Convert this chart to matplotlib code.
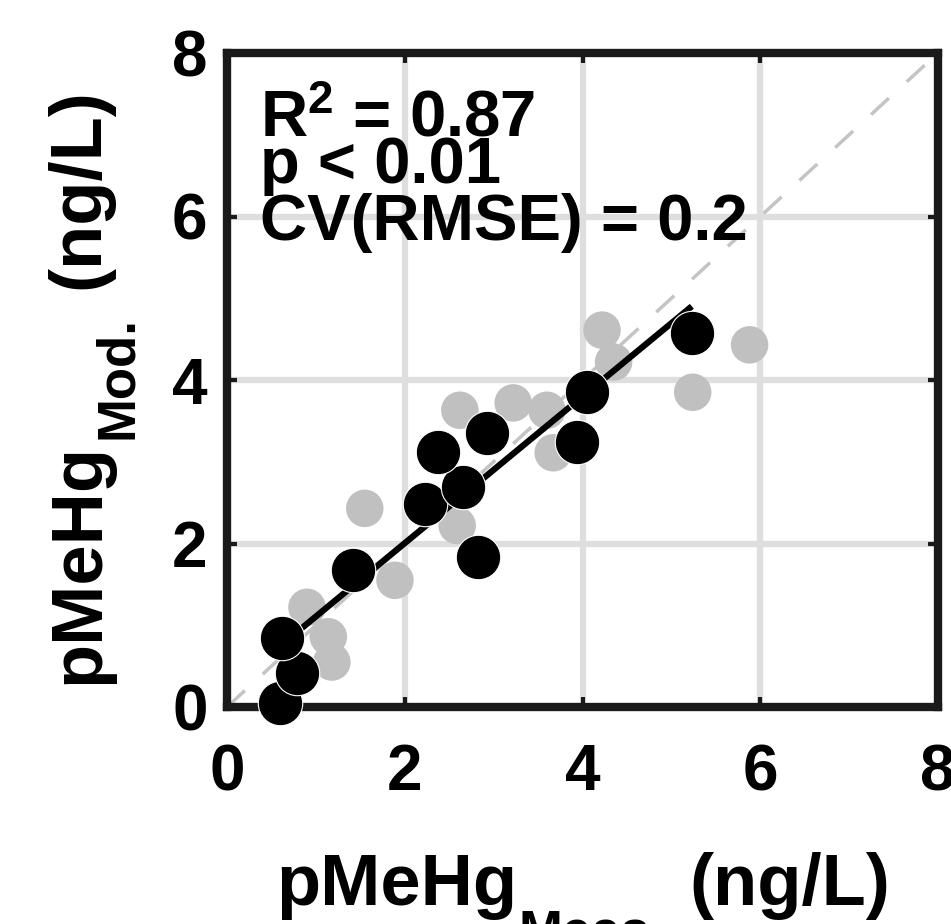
import matplotlib
matplotlib.use("Agg")
import matplotlib.pyplot as plt
import numpy as np

plt.rcParams['font.family'] = ['Liberation Sans', 'DejaVu Sans']
plt.rcParams['font.weight'] = 'bold'
plt.rcParams['mathtext.fontset'] = 'custom'
plt.rcParams['mathtext.rm'] = 'Liberation Sans:bold'
plt.rcParams['mathtext.default'] = 'rm'

# Data
gray_x = [0.90, 1.14, 1.18, 1.55, 1.89, 2.59, 2.62, 3.22, 3.60, 3.67, 4.22, 4.35, 5.24, 5.88]
gray_y = [1.22, 0.86, 0.55, 2.43, 1.55, 2.22, 3.63, 3.72, 3.63, 3.11, 4.61, 4.22, 3.85, 4.43]
black_x = [0.60, 0.79, 0.62, 1.42, 2.23, 2.65, 2.37, 2.92, 2.82, 3.94, 4.05, 5.23]
black_y = [0.05, 0.42, 0.84, 1.68, 2.48, 2.69, 3.12, 3.35, 1.83, 3.24, 3.85, 4.57]
fit_slope = 0.897
fit_intercept = 0.21
ticks = [0, 2, 4, 6, 8]
stats_lines = [r'R$^2$ = 0.87', 'p < 0.01', 'CV(RMSE) = 0.2']
label_main = 'pMeHg'
x_sub = 'Meas'
y_sub = 'Mod.'
unit = '(ng/L)'

W, H = 951, 924
fig = plt.figure(figsize=(W/100, H/100), dpi=100)
ax = fig.add_axes([227/W, 1-707/H, (938-227)/W, (707-53)/H])

ax.set_xlim(0, 8)
ax.set_ylim(0, 8)
ax.set_xticks(ticks)
ax.set_yticks(ticks)
ax.grid(True, color='#dedede', linewidth=4.5, zorder=0)
ax.set_axisbelow(True)

# 1:1 line
ax.plot([0, 8], [0, 8], color='#c4c4c4', linewidth=2.5, linestyle=(0, (7, 7)), zorder=1.5)

ax.scatter(gray_x, gray_y, s=27**2, color='#c0c0c0', edgecolors='none', zorder=2)

fx = np.array([min(black_x), max(black_x)])
ax.plot(fx, fit_intercept + fit_slope * fx, color='black', linewidth=4.5, zorder=3,
        solid_capstyle='butt')

ax.scatter(black_x, black_y, s=32**2, color='black', edgecolors='white', linewidths=0.8,
           zorder=7, clip_on=False)

for s in ax.spines.values():
    s.set_linewidth(6)
    s.set_color('#1a1a1a')
    s.set_zorder(5)

ax.tick_params(axis='both', which='both', direction='in', length=7, width=3,
               color='#1a1a1a', top=True, right=True, labelsize=46)
ax.tick_params(axis='x', pad=26)
ax.tick_params(axis='y', pad=14)

baselines = [0.8716, 0.8012, 0.714]
for txt, yb in zip(stats_lines, baselines):
    ax.text(0.046, yb, txt, transform=ax.transAxes, fontsize=47, fontweight='bold',
            va='baseline', ha='left', zorder=8)

def ftext(px, py, s, size, rot=0):
    fig.text(px / W, 1 - py / H, s, fontsize=size, fontweight='bold',
             ha='left', va='baseline', rotation=rot, rotation_mode='anchor')

# x label pieces
ftext(276, 905, label_main, 52)
ftext(519, 948, x_sub, 38)
ftext(689, 905, unit, 52)
# y label pieces (rotated)
ftext(98, 684, label_main, 52, 90)
ftext(132, 439, y_sub, 38, 90)
ftext(98, 289, unit, 52, 90)

fig.savefig('out.png', dpi=100)
